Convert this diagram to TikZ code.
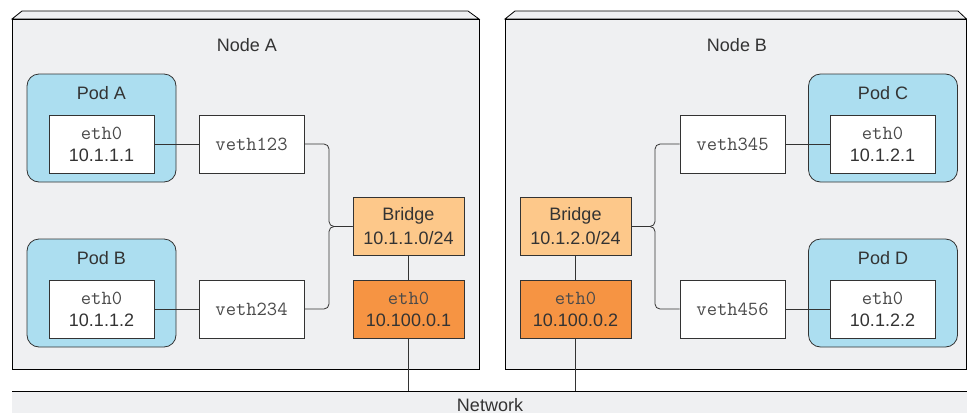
\documentclass[tikz,border=0pt]{standalone}
\usepackage{fontspec}
\setmainfont{Liberation Sans}
\definecolor{hostgray}{HTML}{EFF0F2}
\definecolor{podblue}{HTML}{ACDEF0}
\definecolor{bridgeorange}{HTML}{FDC88A}
\definecolor{ethorange}{HTML}{F69443}
\definecolor{inkgray}{HTML}{333333}
\definecolor{monogray}{HTML}{4A4A4A}
\newcommand{\ifname}[1]{{\fontsize{20}{22}\ttfamily\color{monogray}#1}}
\begin{document}
\begin{tikzpicture}[x=1pt,y=-1pt,line width=0.8pt,
  font=\fontsize{18}{22}\selectfont,text=inkgray,
  box/.style={draw=inkgray,minimum width=105pt,minimum height=58pt,inner sep=0pt,align=center},
  iface/.style={box,fill=white},
  bridgebox/.style={box,minimum width=111pt,fill=bridgeorange,font=\fontsize{18}{24}\selectfont},
  hostif/.style={box,minimum width=111pt,fill=ethorange},
  podbox/.style={draw=inkgray,fill=podblue,rounded corners=12pt,minimum width=149pt,minimum height=108pt},
  wire/.style={draw=inkgray,rounded corners=5pt}]
\useasboundingbox (0,0) rectangle (967,413);
% hosts
\draw[fill=hostgray] (12,19) -- (22,11) -- (468,11) -- (479,19) -- cycle;
\draw[fill=hostgray] (12,19) rectangle (479,369);
\draw[fill=hostgray] (505,19) -- (515,11) -- (958,11) -- (966.5,19) -- cycle;
\draw[fill=hostgray] (505,19) rectangle (966.5,369);
\node (titleA) at (247,45) {Node A};
\node (titleB) at (737,45) {Node B};
% network
\fill[hostgray] (12,391) rectangle (967,413);
\draw (12,391) -- (967,391);
\coordinate (net) at (0,391);
\node[anchor=base] (network) at (490,411) {Network};
% pods
\node[podbox] (podA) at (101.5,128) {};
\node[podbox] (podB) at (101.5,293) {};
\node[podbox] (podC) at (883,128) {};
\node[podbox] (podD) at (883,293) {};
\node (labelA) at (101.5,93) {Pod A};
\node (labelB) at (101.5,258) {Pod B};
\node (labelC) at (883,93) {Pod C};
\node (labelD) at (883,258) {Pod D};
\node[iface] (ethA) at (101.5,144) {\ifname{eth0}\\10.1.1.1};
\node[iface] (ethB) at (101.5,309) {\ifname{eth0}\\10.1.1.2};
\node[iface] (ethC) at (882.5,144) {\ifname{eth0}\\10.1.2.1};
\node[iface] (ethD) at (882.5,309) {\ifname{eth0}\\10.1.2.2};
% veth pairs
\node[iface] (vethA) at (251.5,144) {\ifname{veth123}};
\node[iface] (vethB) at (251.5,309) {\ifname{veth234}};
\node[iface] (vethC) at (732.5,144) {\ifname{veth345}};
\node[iface] (vethD) at (732.5,309) {\ifname{veth456}};
% bridges and host interfaces
\node[bridgebox] (bridgeA) at (408.5,226.5) {Bridge\\10.1.1.0/24};
\node[hostif] (hostA) at (408.5,309) {\ifname{eth0}\\10.100.0.1};
\node[bridgebox] (bridgeB) at (575.5,226.5) {Bridge\\10.1.2.0/24};
\node[hostif] (hostB) at (575.5,309) {\ifname{eth0}\\10.100.0.2};
\coordinate (jA) at (329,226.5);
\coordinate (jB) at (655,226.5);
% wiring
\draw[wire] (ethA.east) -- (vethA.west);
\draw[wire] (ethB.east) -- (vethB.west);
\draw[wire] (vethC.east) -- (ethC.west);
\draw[wire] (vethD.east) -- (ethD.west);
\draw[wire] (vethA.east) -| (jA) -- (bridgeA.west);
\draw[wire] (vethB.east) -| (jA) -- (bridgeA.west);
\draw[wire] (bridgeB.east) -- (jB) |- (vethC.west);
\draw[wire] (bridgeB.east) -- (jB) |- (vethD.west);
\draw[wire] (bridgeA) -- (hostA);
\draw[wire] (bridgeB) -- (hostB);
\draw[wire] (hostA.south) -- (hostA.south |- net);
\draw[wire] (hostB.south) -- (hostB.south |- net);
\end{tikzpicture}
\end{document}
